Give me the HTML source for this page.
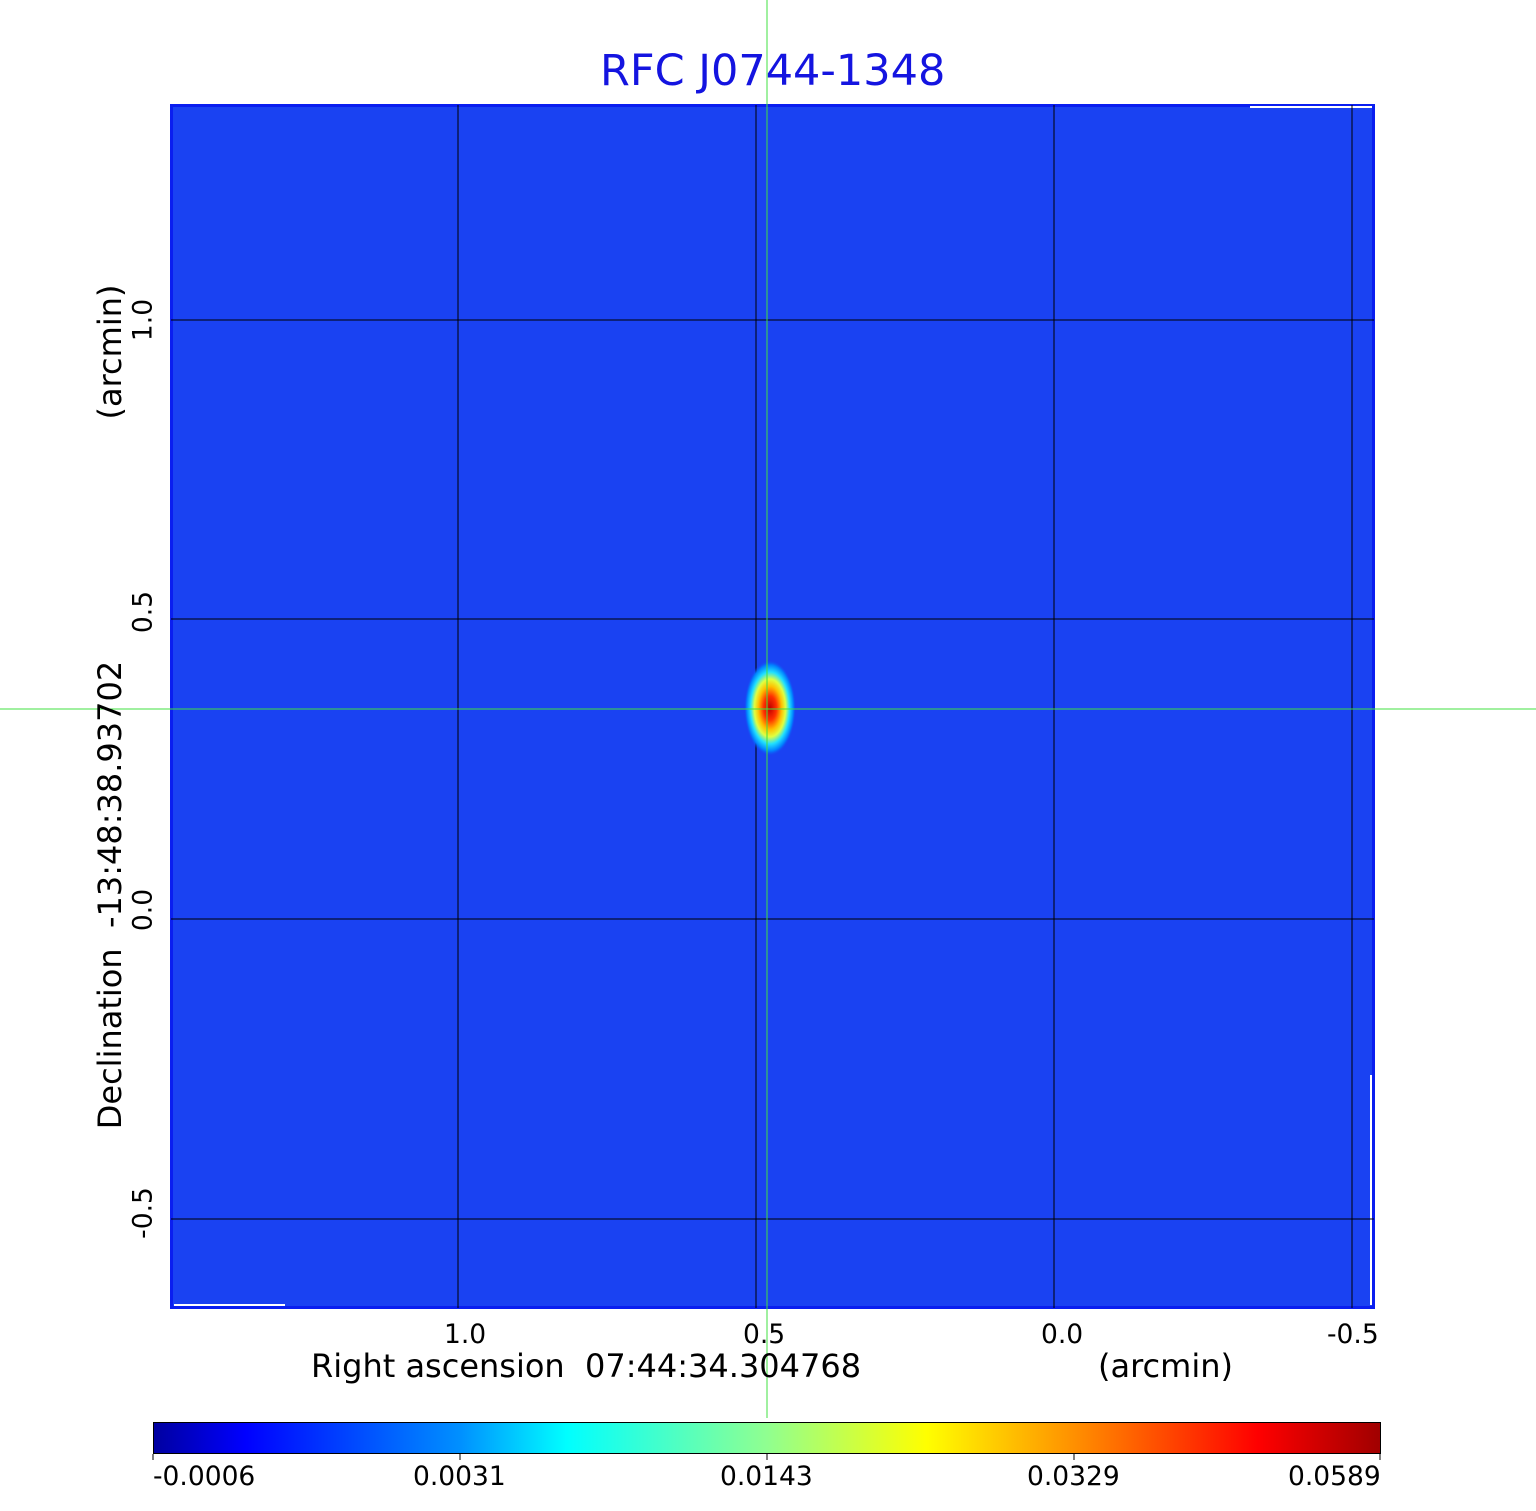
<!DOCTYPE html>
<html><head><meta charset="utf-8"><style>
body{margin:0;width:1536px;height:1511px;background:#fff;position:relative;overflow:hidden;font-family:"DejaVu Sans","Liberation Sans",sans-serif;}
.t{position:absolute;white-space:nowrap;color:#000;}
</style></head><body>
<svg width="1536" height="1511" style="position:absolute;left:0;top:0">
<defs>
<radialGradient id="src" cx="0.5" cy="0.5" r="0.5">
<stop offset="0" stop-color="#c00000"/>
<stop offset="0.25" stop-color="#ff3000"/>
<stop offset="0.45" stop-color="#ffc000"/>
<stop offset="0.6" stop-color="#e0ff40"/>
<stop offset="0.75" stop-color="#20e0ff"/>
<stop offset="0.9" stop-color="#0080ff"/>
<stop offset="1" stop-color="#1a40f0" stop-opacity="0"/>
</radialGradient>
<linearGradient id="cb" x1="0" x2="1">
<stop offset="0" stop-color="#0000a0"/>
<stop offset="0.075" stop-color="#0000ff"/>
<stop offset="0.25" stop-color="#0090ff"/>
<stop offset="0.337" stop-color="#00ffff"/>
<stop offset="0.5" stop-color="#90ff90"/>
<stop offset="0.63" stop-color="#ffff00"/>
<stop offset="0.75" stop-color="#ff9000"/>
<stop offset="0.9" stop-color="#ff0000"/>
<stop offset="1" stop-color="#a00000"/>
</linearGradient>
</defs>
<rect x="170" y="104" width="1205" height="1205" fill="#0a1ef0"/>
<rect x="173" y="107" width="1199" height="1199" fill="#1a42f2"/>
<g stroke="#fff" stroke-width="2"><line x1="174" y1="1305" x2="285" y2="1305"/><line x1="1250" y1="107" x2="1372" y2="107"/><line x1="1371" y1="1075" x2="1371" y2="1305"/></g>
<g stroke="#000" stroke-width="1">
<line x1="458" y1="105" x2="458" y2="1308"/><line x1="756" y1="105" x2="756" y2="1308"/>
<line x1="1054" y1="105" x2="1054" y2="1308"/><line x1="1352" y1="105" x2="1352" y2="1308"/>
<line x1="171" y1="320" x2="1374" y2="320"/><line x1="171" y1="619" x2="1374" y2="619"/>
<line x1="171" y1="919" x2="1374" y2="919"/><line x1="171" y1="1219" x2="1374" y2="1219"/>
</g>
<ellipse cx="770" cy="708" rx="26" ry="48" fill="url(#src)"/>
<g stroke="#40e040" stroke-width="1">
<line x1="767" y1="0" x2="767" y2="1418"/>
<line x1="0" y1="709" x2="1536" y2="709"/>
</g>
<rect x="153.5" y="1422.5" width="1227" height="31" fill="url(#cb)" stroke="#000" stroke-width="1"/>
<g stroke="#000"><line x1="153" y1="1454" x2="153" y2="1460"/><line x1="460" y1="1454" x2="460" y2="1460"/><line x1="767" y1="1454" x2="767" y2="1460"/><line x1="1074" y1="1454" x2="1074" y2="1460"/><line x1="1380" y1="1454" x2="1380" y2="1460"/></g>
</svg>
<div class="t" style="left:600px;top:46px;font-size:43px;color:#1414e0">RFC J0744-1348</div>
<div class="t" style="left:444px;top:1319px;font-size:26.5px">1.0</div>
<div class="t" style="left:743px;top:1319px;font-size:26.5px">0.5</div>
<div class="t" style="left:1041px;top:1319px;font-size:26.5px">0.0</div>
<div class="t" style="left:1327px;top:1319px;font-size:26.5px">-0.5</div>
<div class="t" style="left:311px;top:1347px;font-size:32px">Right ascension&nbsp; 07:44:34.304768</div>
<div class="t" style="left:1098px;top:1347px;font-size:32px">(arcmin)</div>
<div class="t" style="left:153px;top:1461px;font-size:26.5px">-0.0006</div>
<div class="t" style="left:413px;top:1461px;font-size:26.5px">0.0031</div>
<div class="t" style="left:720px;top:1461px;font-size:26.5px">0.0143</div>
<div class="t" style="left:1027px;top:1461px;font-size:26.5px">0.0329</div>
<div class="t" style="left:1288px;top:1461px;font-size:26.5px">0.0589</div>
<div class="t" style="left:143px;top:320px;font-size:26.5px;transform:translate(-50%,-50%) rotate(-90deg)">1.0</div>
<div class="t" style="left:143px;top:612px;font-size:26.5px;transform:translate(-50%,-50%) rotate(-90deg)">0.5</div>
<div class="t" style="left:143px;top:910px;font-size:26.5px;transform:translate(-50%,-50%) rotate(-90deg)">0.0</div>
<div class="t" style="left:143px;top:1213px;font-size:26.5px;transform:translate(-50%,-50%) rotate(-90deg)">-0.5</div>
<div class="t" style="left:110px;top:352px;font-size:32px;transform:translate(-50%,-50%) rotate(-90deg)">(arcmin)</div>
<div class="t" style="left:110px;top:895px;font-size:32px;transform:translate(-50%,-50%) rotate(-90deg)">Declination&nbsp; -13:48:38.93702</div>
</body></html>
